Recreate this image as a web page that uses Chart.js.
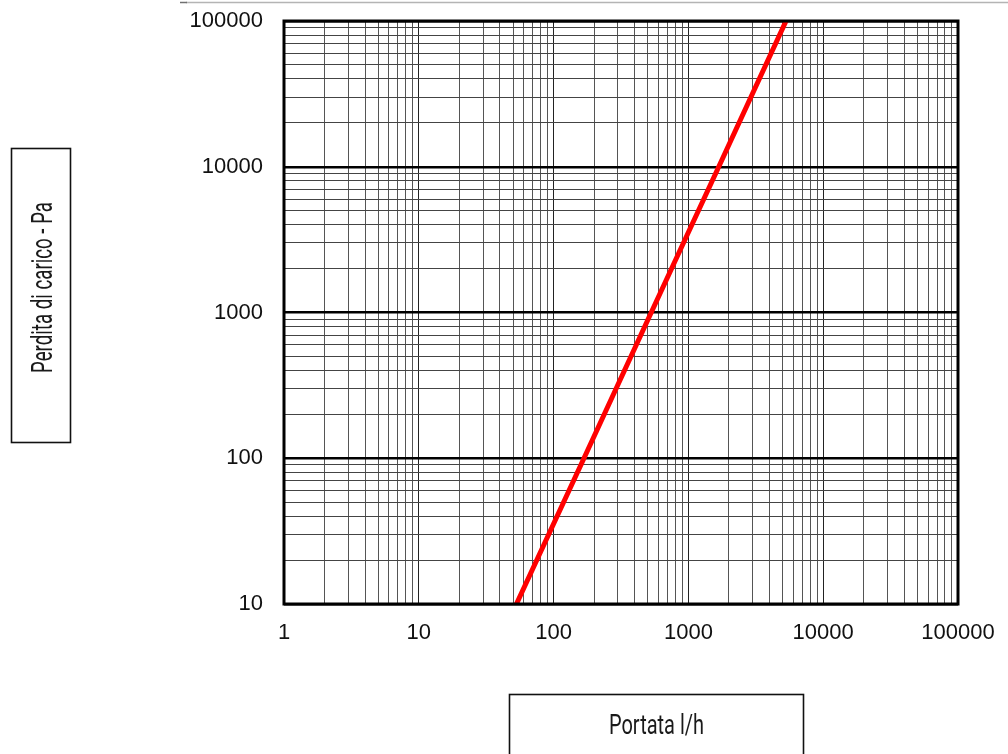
<!DOCTYPE html>
<html>
<head>
<meta charset="utf-8">
<script src="https://cdn.jsdelivr.net/npm/chart.js@4/dist/chart.umd.min.js"></script>
<style>
  html, body { margin: 0; padding: 0; background: #fff; }
  #wrap { position: relative; width: 1008px; height: 754px; }
</style>
</head>
<body>
<div id="wrap"><canvas id="lossChart" width="1008" height="754"></canvas></div>
<script>
// Flow rate (l/h) vs pressure drop (Pa)
const flowRate = [53, 168, 530, 1680, 5300];
const pressureDrop = [10, 100, 1000, 10000, 100000];

// Axis decades and minor grid multipliers
const xDecades = [1, 10, 100, 1000, 10000, 100000];
const yDecades = [10, 100, 1000, 10000, 100000];
const minorSteps = [1, 2, 3, 4, 5, 6, 7, 8, 9];

const xTitle = 'Portata l/h';
const yTitle = 'Perdita di carico - Pa';

function buildLogTicks(decades) {
    const ticks = [];
    decades.forEach((d, i) => {
        if (i === decades.length - 1) {
            ticks.push({ value: d });
            return;
        }
        minorSteps.forEach(m => ticks.push({ value: d * m }));
    });
    return ticks;
}

function isDecade(v) {
    const l = Math.log10(v);
    return Math.abs(l - Math.round(l)) < 1e-9;
}

// draws the condensed title text inside a box, squeezed to a given width
function condensedText(ctx, text, size, targetWidth) {
    ctx.font = size + 'px Roboto, "Liberation Sans Narrow", sans-serif';
    const w = ctx.measureText(text).width;
    const sx = targetWidth / w;
    ctx.save();
    ctx.scale(sx, 1);
    ctx.textAlign = 'center';
    ctx.textBaseline = 'alphabetic';
    ctx.fillStyle = '#1a1a1a';
    ctx.fillText(text, 0, 0);
    ctx.restore();
}

const decorPlugin = {
    id: 'decor',
    afterDraw(chart) {
        const ctx = chart.ctx;
        const a = chart.chartArea;

        // frame round the plot
        ctx.save();
        ctx.strokeStyle = '#000';
        ctx.lineWidth = 3;
        ctx.strokeRect(a.left, a.top, a.right - a.left, a.bottom - a.top);

        // thin page line at the top
        ctx.lineWidth = 1.5;
        ctx.strokeStyle = '#b4b4b4';
        ctx.beginPath();
        ctx.moveTo(186, 2.5);
        ctx.lineTo(1008, 2.5);
        ctx.stroke();
        ctx.strokeStyle = '#707070';
        ctx.beginPath();
        ctx.moveTo(180, 2.5);
        ctx.lineTo(187, 2.5);
        ctx.stroke();

        // title boxes
        ctx.strokeStyle = '#111';
        ctx.lineWidth = 1.6;
        ctx.strokeRect(11.5, 148.5, 59, 294);
        ctx.strokeRect(509.5, 694.5, 294, 70);

        ctx.translate(656.5, 734);
        condensedText(ctx, xTitle, 28, 95);
        ctx.restore();

        ctx.save();
        ctx.translate(52, 287.5);
        ctx.rotate(-Math.PI / 2);
        condensedText(ctx, yTitle, 30, 171);
        ctx.restore();
    }
};

new Chart(document.getElementById('lossChart'), {
    type: 'line',
    data: {
        datasets: [{
            data: flowRate.map((q, i) => ({ x: q, y: pressureDrop[i] })),
            borderColor: '#ff0000',
            borderWidth: 5,
            pointRadius: 0,
            tension: 0,
            fill: false
        }]
    },
    options: {
        responsive: false,
        animation: false,
        devicePixelRatio: 1,
        layout: { padding: { top: 21, right: 50, left: 0, bottom: 0 } },
        plugins: { legend: { display: false }, tooltip: { enabled: false } },
        scales: {
            x: {
                type: 'logarithmic',
                min: xDecades[0],
                max: xDecades[xDecades.length - 1],
                afterBuildTicks: s => { s.ticks = buildLogTicks(xDecades); },
                afterFit: s => { s.height = 150; s.paddingLeft = 0; s.paddingRight = 0; },
                border: { display: false },
                grid: {
                    drawTicks: false,
                    color: ctx => isDecade(ctx.tick.value) ? '#222' : '#555',
                    lineWidth: 1
                },
                ticks: {
                    autoSkip: false,
                    maxRotation: 0,
                    padding: 16,
                    color: '#111',
                    font: { family: '"Liberation Sans", Arial, sans-serif', size: 22 },
                    callback: v => isDecade(v) ? String(Math.round(v)) : ''
                }
            },
            y: {
                type: 'logarithmic',
                min: yDecades[0],
                max: yDecades[yDecades.length - 1],
                afterBuildTicks: s => { s.ticks = buildLogTicks(yDecades); },
                afterFit: s => { s.width = 284; s.paddingTop = 0; s.paddingBottom = 0; },
                border: { display: false },
                grid: {
                    drawTicks: false,
                    color: ctx => isDecade(ctx.tick.value) ? '#000' : '#444',
                    lineWidth: ctx => isDecade(ctx.tick.value) ? 2.5 : 1
                },
                ticks: {
                    autoSkip: false,
                    padding: 21,
                    color: '#111',
                    font: { family: '"Liberation Sans", Arial, sans-serif', size: 22 },
                    callback: v => isDecade(v) ? String(Math.round(v)) : ''
                }
            }
        }
    },
    plugins: [decorPlugin]
});
</script>
</body>
</html>
